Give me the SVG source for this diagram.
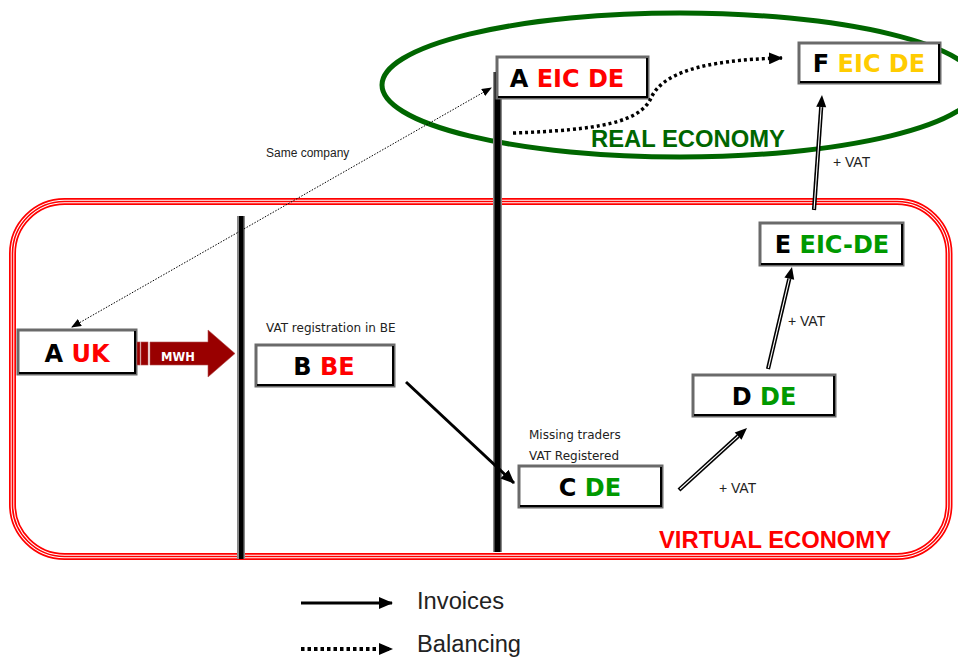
<svg xmlns="http://www.w3.org/2000/svg" width="958" height="658" viewBox="0 0 958 658">
<style>
.box{fill:#fff;stroke:#6a6a6a;stroke-width:3}
.boxdk{fill:none;stroke:#000;stroke-width:2}
.nt{font-family:"DejaVu Sans",Verdana,sans-serif;font-weight:bold;font-size:24px;text-anchor:middle}
.red{fill:#ff0000}.grn{fill:#009900}.yel{fill:#ffcc00}.blk{fill:#000}
.sm{font-family:"DejaVu Sans",Verdana,sans-serif;font-size:12px;fill:#222}
.ar{font-family:"Liberation Sans",Arial,sans-serif;fill:#222}
.big{font-family:"Liberation Sans",Arial,sans-serif;font-weight:bold;font-size:23.5px}
.dbl{stroke:#000;stroke-width:4.2;fill:none}
.dbli{stroke:#fff;stroke-width:1.1;fill:none}
</style>
<defs>
<marker id="ah" markerUnits="userSpaceOnUse" markerWidth="14" markerHeight="12" refX="13" refY="6" orient="auto">
<path d="M0,0 L14,6 L0,12 Z" fill="#000"/>
</marker>
<marker id="ahs" markerUnits="userSpaceOnUse" markerWidth="10" markerHeight="8" refX="9" refY="4" orient="auto">
<path d="M0,0 L10,4 L0,8 Z" fill="#000"/>
</marker>
<marker id="ahss" markerUnits="userSpaceOnUse" markerWidth="10" markerHeight="8" refX="1" refY="4" orient="auto">
<path d="M10,0 L0,4 L10,8 Z" fill="#000"/>
</marker>
</defs>

<!-- zones -->
<g id="virtual-economy">
<rect x="12.5" y="201.5" width="936.5" height="355" rx="52" ry="52" fill="none" stroke="#ff0000" stroke-width="7"/>
<rect x="12.5" y="201.5" width="936.5" height="355" rx="52" ry="52" fill="none" stroke="#fff" stroke-width="3.6"/>
<rect x="12.5" y="201.5" width="936.5" height="355" rx="52" ry="52" fill="none" stroke="#ff0000" stroke-width="1.6"/>
<text class="big" x="659" y="548" fill="#ff0000" textLength="232" lengthAdjust="spacingAndGlyphs">VIRTUAL ECONOMY</text>
</g>
<g id="real-economy">
<ellipse cx="680" cy="85" rx="298" ry="72" fill="none" stroke="#006600" stroke-width="5"/>
<text class="big" x="591" y="147" fill="#006600" textLength="194" lengthAdjust="spacingAndGlyphs">REAL ECONOMY</text>
</g>

<!-- borders -->
<g id="borders">
<rect x="237" y="216" width="8" height="343" fill="#888"/>
<rect x="239" y="216" width="4.5" height="343" fill="#000"/>
<rect x="493" y="72" width="9" height="480" fill="#888"/>
<rect x="494.5" y="72" width="6" height="480" fill="#000"/>
</g>

<!-- nodes -->
<g id="node-a-uk">
<rect class="box" x="18" y="330" width="118" height="44"/>
<polyline class="boxdk" points="19,373 135,373 135,331"/>
<text class="nt" x="77" y="362"><tspan class="blk">A </tspan><tspan class="red">UK</tspan></text>
</g>
<g id="node-b-be">
<rect class="box" x="256" y="345" width="138" height="41"/>
<polyline class="boxdk" points="257,385 393,385 393,346"/>
<text class="nt" x="324" y="375"><tspan class="blk">B </tspan><tspan class="red">BE</tspan></text>
<text class="sm" x="266" y="332">VAT registration in BE</text>
</g>
<g id="node-a-eic-de">
<rect class="box" x="497" y="57" width="151" height="41"/>
<polyline class="boxdk" points="498,97 647,97 647,58"/>
<text class="nt" x="567" y="87"><tspan class="blk">A </tspan><tspan class="red">EIC DE</tspan></text>
</g>
<g id="node-f-eic-de">
<rect class="box" x="799" y="43" width="141" height="40"/>
<polyline class="boxdk" points="800,82 939,82 939,44"/>
<text class="nt" x="869" y="72"><tspan class="blk">F </tspan><tspan class="yel">EIC DE</tspan></text>
</g>
<g id="node-e-eic-de">
<rect class="box" x="760" y="223" width="143" height="42"/>
<polyline class="boxdk" points="761,264 902,264 902,224"/>
<text class="nt" x="832" y="253"><tspan class="blk">E </tspan><tspan class="grn">EIC-DE</tspan></text>
</g>
<g id="node-d-de">
<rect class="box" x="693" y="375" width="142" height="41"/>
<polyline class="boxdk" points="694,415 834,415 834,376"/>
<text class="nt" x="764" y="405"><tspan class="blk">D </tspan><tspan class="grn">DE</tspan></text>
</g>
<g id="node-c-de">
<rect class="box" x="519" y="466" width="143" height="41"/>
<polyline class="boxdk" points="520,506 661,506 661,467"/>
<text class="nt" x="590" y="496"><tspan class="blk">C </tspan><tspan class="grn">DE</tspan></text>
<text class="sm" x="529" y="439">Missing traders</text>
<text class="sm" x="529" y="460">VAT Registered</text>
</g>

<!-- connectors -->
<g id="connectors">
<!-- MWH flow -->
<g fill="#990000" stroke="#b45050" stroke-width="0.6">
<rect x="137" y="342" width="3" height="23"/>
<rect x="141" y="342" width="7" height="23"/>
<polygon points="150,342 208,342 208,330 235,353.5 208,377 208,365 150,365"/>
</g>
<text x="161" y="361" font-family="DejaVu Sans,Verdana,sans-serif" font-weight="bold" font-size="11.5" fill="#fff">MWH</text>

<!-- same company -->
<line x1="72" y1="327" x2="491" y2="88" stroke="#000" stroke-width="1" stroke-dasharray="1.5 1.5" marker-start="url(#ahss)" marker-end="url(#ahs)"/>
<text class="ar" x="266" y="157" font-size="12">Same company</text>

<!-- balancing -->
<path d="M513,133 C600,130 640,122 651,98 C662,74 700,60 782,58" fill="none" stroke="#000" stroke-width="3.5" stroke-dasharray="3 3" marker-end="url(#ah)"/>

<!-- invoice B -> C -->
<line x1="406" y1="382" x2="514" y2="483" stroke="#000" stroke-width="3" marker-end="url(#ah)"/>

<!-- C -> D -->
<line class="dbl" x1="679" y1="490" x2="738.1" y2="436.1"/>
<line class="dbli" x1="680" y1="489" x2="738.1" y2="436.1"/>
<polygon points="747,428 741.5,439.8 734.7,432.4" fill="#000"/>
<text class="ar" x="719" y="493" font-size="14">+ VAT</text>

<!-- D -> E -->
<line class="dbl" x1="768" y1="369" x2="789.3" y2="278.7"/>
<line class="dbli" x1="768.3" y1="368" x2="789.3" y2="278.7"/>
<polygon points="792,267 794.2,279.8 784.4,277.6" fill="#000"/>
<text class="ar" x="788" y="326" font-size="14">+ VAT</text>

<!-- E -> F -->
<line class="dbl" x1="814" y1="210" x2="821.2" y2="107"/>
<line class="dbli" x1="814.1" y1="209" x2="821.2" y2="107"/>
<polygon points="822,95 826.2,107.3 816.2,106.7" fill="#000"/>
<text class="ar" x="833" y="167" font-size="14">+ VAT</text>
</g>

<!-- legend -->
<g id="legend">
<line x1="301" y1="603" x2="392" y2="603" stroke="#000" stroke-width="3" marker-end="url(#ah)"/>
<text class="ar" x="417" y="609" font-size="23" fill="#000" textLength="87" lengthAdjust="spacingAndGlyphs">Invoices</text>
<line x1="301" y1="649" x2="392" y2="649" stroke="#000" stroke-width="4" stroke-dasharray="3.5 3" marker-end="url(#ah)"/>
<text class="ar" x="417" y="652" font-size="23" fill="#000" textLength="104" lengthAdjust="spacingAndGlyphs">Balancing</text>
</g>
</svg>
